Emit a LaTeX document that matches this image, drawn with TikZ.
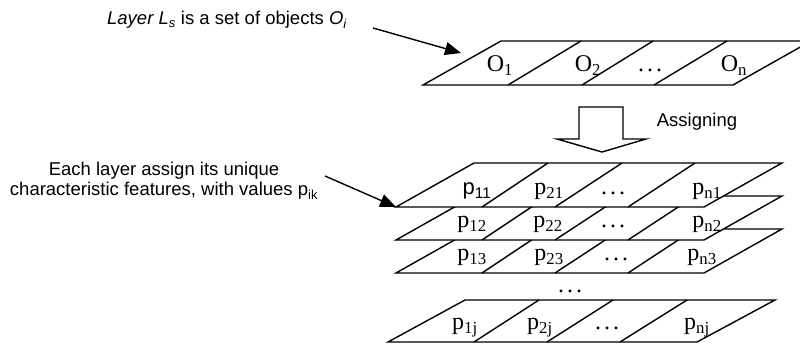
\documentclass[tikz,border=0pt]{standalone}
\usepackage{fontspec}
\setmainfont{Liberation Serif}
\newfontfamily\arialf{Liberation Sans}
\usetikzlibrary{arrows.meta}
\newcommand{\mydots}{.\kern3pt.\kern3pt.}
\tikzset{
  x=1pt, y=-1pt,
  layerline/.style={line width=1.4pt, line join=miter},
  layerfill/.style={layerline, fill=white, draw=black},
  cell/.style={font=\fontsize{24}{28}\selectfont, inner sep=0pt, anchor=base},
  note/.style={font=\arialf\fontsize{18.5}{20}\selectfont, inner sep=0pt},
  pointer/.style={line width=1.4pt, -{Triangle[length=16pt,width=13pt]}},
}
\begin{document}
\begin{tikzpicture}
\useasboundingbox (0,0) rectangle (800,344);

% ---------- top layer (objects) ----------
\coordinate (Obl) at (423,85); \coordinate (Obr) at (733,85);
\coordinate (Otr) at (811,41); \coordinate (Otl) at (501,41);
\filldraw[layerfill] (Obl) -- (Obr) -- (Otr) -- (Otl) -- cycle;
\draw[layerline] (508,85) -- (581,41) (582,85) -- (653,41) (654,85) -- (727,41);
\node[cell] (O1) at (500,72) {O\textsubscript{1}};
\node[cell] (O2) at (588,72) {O\textsubscript{2}};
\node[cell] (Od) at (650,72) {\mydots};
\node[cell] (On) at (734,72) {O\textsubscript{n}};

% ---------- hollow arrow ----------
\draw[layerline, fill=white] (579,107) -- (623,107) -- (623,139) -- (646,139)
  -- (602,152) -- (557,139) -- (579,139) -- cycle;
\node[note, anchor=base] (assign) at (697,127) {Assigning};

% ---------- layer j ----------
\coordinate (Jbl) at (388,342); \coordinate (Jbr) at (697,342);
\coordinate (Jtr) at (775,300); \coordinate (Jtl) at (465,300);
\filldraw[layerfill] (Jbl) -- (Jbr) -- (Jtr) -- (Jtl) -- cycle;
\draw[layerline] (474,342) -- (539,300) (547,342) -- (613,300) (620,342) -- (687,300);
\node[cell] (p1j) at (465,330) {p\textsubscript{1j}};
\node[cell] (p2j) at (540,330) {p\textsubscript{2j}};
\node[cell] (pdj) at (607,330) {\mydots};
\node[cell] (pnj) at (697,330) {p\textsubscript{nj}};

\node[cell] (vdots) at (570,293) {\mydots};

% ---------- layer 3 ----------
\coordinate (Cbl) at (396,273); \coordinate (Cbr) at (704,273);
\coordinate (Ctr) at (782,229); \coordinate (Ctl) at (474,229);
\filldraw[layerfill] (Cbl) -- (Cbr) -- (Ctr) -- (Ctl) -- cycle;
\draw[layerline] (482,273) -- (548,229) (555,273) -- (622,229) (628,273) -- (695,229);
\node[cell] (p13) at (472,261) {p\textsubscript{13}};
\node[cell] (p23) at (549,261) {p\textsubscript{23}};
\node[cell] (pd3) at (616,261) {\mydots};
\node[cell] (pn3) at (702,261) {p\textsubscript{n3}};

% ---------- layer 2 ----------
\coordinate (Bbl) at (396,240); \coordinate (Bbr) at (704,240);
\coordinate (Btr) at (782,196); \coordinate (Btl) at (474,196);
\filldraw[layerfill] (Bbl) -- (Bbr) -- (Btr) -- (Btl) -- cycle;
\draw[layerline] (482,240) -- (548,196) (555,240) -- (622,196) (628,240) -- (695,196);
\node[cell] (p12) at (472,228) {p\textsubscript{12}};
\node[cell] (p22) at (548,228) {p\textsubscript{22}};
\node[cell] (pd2) at (613,228) {\mydots};
\node[cell] (pn2) at (707,228) {p\textsubscript{n2}};

% ---------- layer 1 ----------
\coordinate (Abl) at (396,207); \coordinate (Abr) at (704,207);
\coordinate (Atr) at (782,163); \coordinate (Atl) at (474,163);
\filldraw[layerfill] (Abl) -- (Abr) -- (Atr) -- (Atl) -- cycle;
\draw[layerline] (482,207) -- (548,163) (555,207) -- (622,163) (628,207) -- (695,163);
\node[cell, font=\arialf\fontsize{22}{26}\selectfont] (p11) at (477,195) {p\textsubscript{11}};
\node[cell] (p21) at (549,195) {p\textsubscript{21}};
\node[cell] (pd1) at (613,195) {\mydots};
\node[cell] (pn1) at (707,195) {p\textsubscript{n1}};

% ---------- annotations ----------
\node[note, anchor=base] (tL) at (227,25)
  {\itshape Layer L\textsubscript{s}\upshape{} is a set of objects \itshape O\textsubscript{i}};
\coordinate (a1s) at (373,28);
\coordinate (a1e) at (461,53);
\draw[pointer] (a1s) -- (a1e);

\node[note, align=center, anchor=center] (tE) at (164,181)
  {Each layer assign its unique\\characteristic features, with values p\textsubscript{ik}};
\coordinate (a2s) at (325,176);
\draw[pointer] (a2s) -- (Abl);
\end{tikzpicture}
\end{document}
